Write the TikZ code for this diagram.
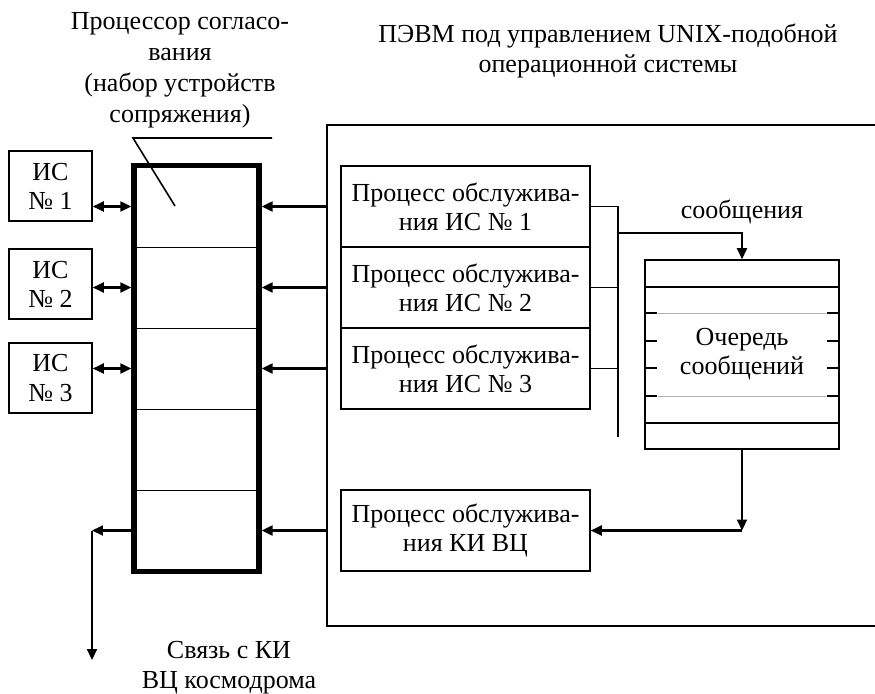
\documentclass[tikz,border=0pt]{standalone}
\usepackage{fontspec}
\setmainfont{Liberation Serif}
\usetikzlibrary{arrows.meta}

\begin{document}
\begin{tikzpicture}[
    x=0.02cm, y=-0.02cm,
    every node/.style={font=\fontsize{14.8}{16.6}\selectfont},
    box/.style={draw, line width=0.9pt, align=center, inner sep=0pt},
    cell/.style={minimum width=2.48cm, minimum height=1.62cm, inner sep=0pt},
    procbox/.style={box, minimum width=4.98cm, minimum height=1.62cm},
    isbox/.style={box, minimum width=1.66cm, minimum height=1.4cm},
    arr/.style={-{Triangle[length=2.2mm,width=2mm]}, line width=1.2pt},
    dbl/.style={{Triangle[length=2.2mm,width=2mm]}-{Triangle[length=2.2mm,width=2mm]}, line width=1.2pt},
    lbl/.style={align=center},
]
\useasboundingbox (0,0) rectangle (875,693);

% === PC frame (right side cut off) ===
\draw[line width=0.9pt] (875,125) -- (327,125) -- (327,626) -- (875,626);
\node[lbl] (pc) at (608,51)
    {ПЭВМ под управлением UNIX-подобной\\операционной системы};

% === Interface processor ===
\foreach \i/\y in {1/206.5, 2/287.5, 3/368.5, 4/449.5, 5/530.5}
    \node[cell] (p\i) at (196.5,\y) {};
\foreach \i in {1,...,4}
    \draw[line width=0.9pt] (p\i.south west) -- (p\i.south east);
\draw[line width=3.2pt] (p1.north west) rectangle (p5.south east);
\node[lbl, font=\fontsize{14.8}{17.6}\selectfont] (plbl) at (180,70)
    {Процессор согласо-\\вания\\(набор устройств\\сопряжения)};
% pointer
\draw[line width=0.9pt] (272,138) -- (133,138) -- (175,206);

% === Information systems ===
\node[isbox] (is1) at (50.5,186) {ИС\\№ 1};
\node[isbox] (is2) at (50.5,284) {ИС\\№ 2};
\node[isbox] (is3) at (50.5,378) {ИС\\№ 3};
\foreach \i in {1,2,3}
    \draw[dbl, shorten >=1.6pt] (p\i.west -| is\i.east) -- (p\i.west);

% === Service processes ===
\node[procbox] (ps1) at (465.5,206.5) {Процесс обслужива-\\ния ИС № 1};
\node[procbox] (ps2) at (465.5,287.5) {Процесс обслужива-\\ния ИС № 2};
\node[procbox] (ps3) at (465.5,368.5) {Процесс обслужива-\\ния ИС № 3};
\node[procbox] (ki) at (465.5,530.5) {Процесс обслужива-\\ния КИ ВЦ};
\foreach \i in {1,2,3}
    \draw[arr, shorten >=1.6pt] (p\i.east -| 327,0) -- (p\i.east);
\draw[arr, shorten >=1.6pt] (p5.east -| 327,0) -- (p5.east);

% === Message queue ===
\node[box, minimum width=3.88cm, minimum height=3.78cm] (q) at (742,354.5)
    {Очередь\\сообщений};
\draw[line width=0.9pt] (q.west |- 0,287) -- (q.east |- 0,287);
\draw[line width=0.9pt] (q.west |- 0,423) -- (q.east |- 0,423);
\foreach \y in {313,396}
    \draw[black!30, line width=0.5pt] (658,\y) -- (826,\y);
\foreach \y in {313,341,368,396} {
    \draw[line width=0.9pt] (q.west |- 0,\y) -- ++(13,0);
    \draw[line width=0.9pt] (q.east |- 0,\y) -- ++(-13,0);
}
\node[lbl] (msg) at (742,212) {сообщения};

% bus from processes to queue
\coordinate (bt) at (618,206.5);
\coordinate (bb) at (618,437);
\coordinate (br) at (618,233);
\draw[line width=0.9pt] (ps1.east) -- (bt) -- (bb);
\draw[line width=0.9pt] (ps2.east) -- (ps2.east -| bt);
\draw[line width=0.9pt] (ps3.east) -- (ps3.east -| bt);
\draw[arr] (br) -| (q.north);

% queue to KI process
\coordinate (qo) at (742,530.5);
\draw[arr] (q.south) -- (qo);
\draw[arr] (qo) -- (ki.east);

% link to cosmodrome computing centre
\coordinate (kc) at (92,530.5);
\coordinate (kd) at (92,660);
\draw[arr, shorten <=1.6pt] (p5.west) -- (kc);
\draw[arr] (kc) -- (kd);
\node[lbl, font=\fontsize{14.8}{17.2}\selectfont] (link) at (229,668)
    {Связь с КИ\\ВЦ космодрома};

\end{tikzpicture}
\end{document}
